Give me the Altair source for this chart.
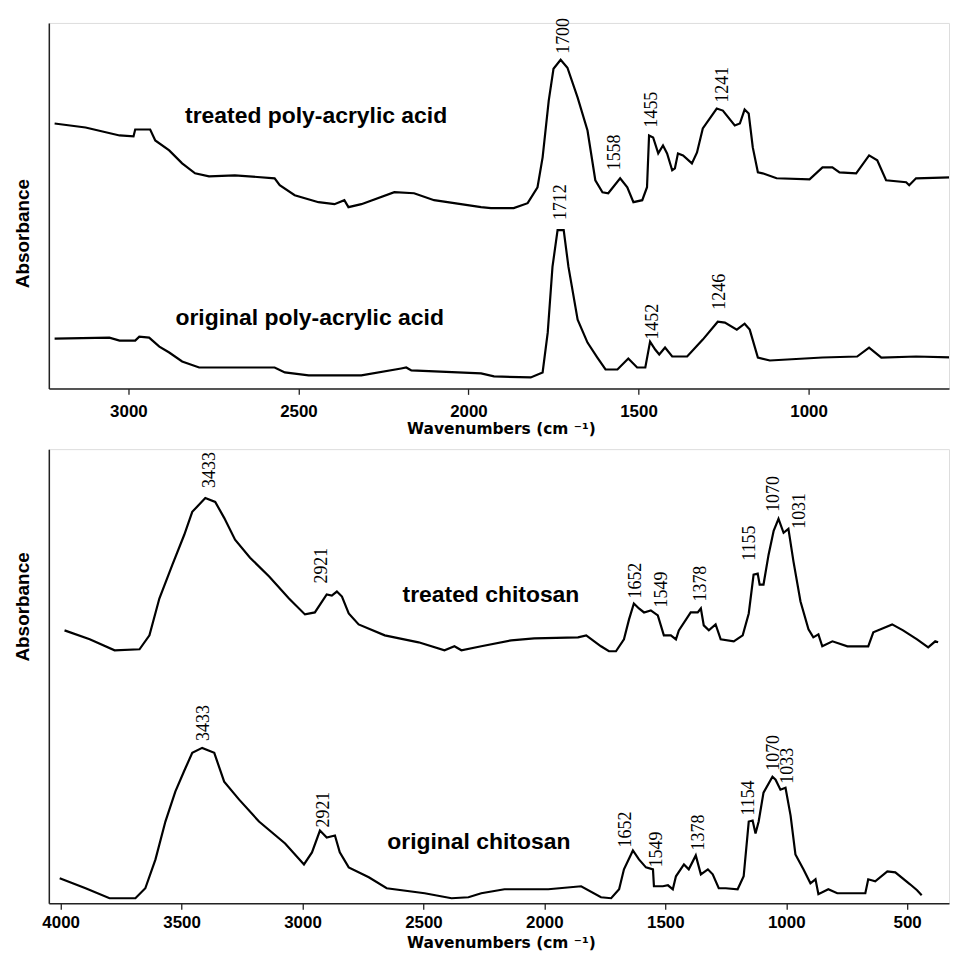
import altair as alt
import pandas as pd

# ---------------- top panel: poly-acrylic acid ----------------
TPAA_WN = [3217, 3126, 3026, 2985, 2980, 2936, 2921, 2880, 2842, 2804, 2763, 2687, 2570, 2555, 2511,
           2441, 2394, 2365, 2353, 2315, 2218, 2160, 2101, 1963, 1934, 1867, 1826, 1797, 1782, 1764,
           1750, 1729, 1709, 1679, 1650, 1627, 1606, 1589, 1554, 1533, 1515, 1489, 1475, 1469, 1457,
           1442, 1428, 1416, 1401, 1393, 1384, 1369, 1343, 1328, 1311, 1270, 1252, 1217, 1202, 1188,
           1176, 1164, 1149, 1135, 1094, 997, 959, 930, 909, 860, 822, 798, 772, 713, 704, 684, 579, 567]
TPAA_A = [2.66, 2.62, 2.54, 2.53, 2.60, 2.60, 2.49, 2.39, 2.26, 2.16, 2.13, 2.14, 2.11, 2.04, 1.94,
          1.87, 1.85, 1.89, 1.82, 1.85, 1.97, 1.96, 1.89, 1.82, 1.81, 1.81, 1.86, 2.02, 2.32, 2.89,
          3.21, 3.30, 3.22, 2.92, 2.59, 2.09, 1.97, 1.96, 2.11, 2.02, 1.87, 1.89, 2.02, 2.54, 2.52,
          2.36, 2.44, 2.36, 2.19, 2.21, 2.36, 2.34, 2.26, 2.37, 2.61, 2.81, 2.79, 2.64, 2.66, 2.80,
          2.76, 2.42, 2.17, 2.16, 2.11, 2.10, 2.22, 2.22, 2.17, 2.16, 2.34, 2.29, 2.09, 2.07, 2.04,
          2.11, 2.12, 2.22]

OPAA_WN = [3217, 3056, 3026, 2980, 2968, 2939, 2909, 2880, 2842, 2792, 2570, 2540, 2470, 2315, 2198,
           2183, 2168, 1963, 1925, 1817, 1782, 1767, 1753, 1738, 1720, 1706, 1679, 1650, 1621, 1597,
           1562, 1530, 1504, 1480, 1466, 1451, 1439, 1422, 1401, 1357, 1311, 1267, 1246, 1211, 1188,
           1173, 1149, 1114, 959, 857, 822, 786, 684, 567]
OPAA_A = [0.50, 0.51, 0.48, 0.48, 0.52, 0.51, 0.42, 0.36, 0.27, 0.21, 0.21, 0.16, 0.13, 0.13, 0.20,
          0.21, 0.18, 0.15, 0.12, 0.11, 0.16, 0.56, 1.22, 1.59, 1.59, 1.22, 0.69, 0.46, 0.31, 0.19,
          0.19, 0.30, 0.21, 0.21, 0.47, 0.39, 0.34, 0.41, 0.32, 0.32, 0.49, 0.67, 0.66, 0.59, 0.65,
          0.59, 0.31, 0.28, 0.31, 0.32, 0.41, 0.31, 0.32, 0.31]

TOP_PEAK_TXT = ["1700", "1558", "1455", "1241", "1712", "1452", "1246"]
TOP_PEAK_WN = [1718, 1568, 1460, 1252, 1729, 1457, 1261]
TOP_PEAK_A = [3.36, 2.19, 2.62, 2.87, 1.69, 0.49, 0.79]

TOP_NAME_TXT = ["treated poly-acrylic acid", "original poly-acrylic acid"]
TOP_NAME_WN = [2448, 2467]
TOP_NAME_A = [2.67, 0.64]

TOP_TICKS = [3000, 2500, 2000, 1500, 1000]

# ---------------- bottom panel: chitosan ----------------
TCH_WN = [3984, 3880, 3777, 3674, 3633, 3592, 3538, 3489, 3456, 3402, 3361, 3324, 3279, 3217, 3138,
          3056, 2990, 2949, 2900, 2879, 2858, 2837, 2809, 2768, 2660, 2520, 2413, 2372, 2343, 2261,
          2137, 2042, 1861, 1827, 1766, 1733, 1704, 1671, 1650, 1630, 1609, 1588, 1560, 1531, 1506,
          1477, 1456, 1444, 1395, 1366, 1353, 1341, 1320, 1292, 1271, 1217, 1180, 1155, 1135, 1118,
          1110, 1094, 1073, 1052, 1032, 1011, 991, 970, 941, 908, 888, 867, 851, 809, 747,
          661, 640, 562, 517, 459, 413, 384, 372]
TCH_A = [2.74, 2.65, 2.54, 2.55, 2.69, 3.06, 3.40, 3.70, 3.93, 4.07, 4.03, 3.87, 3.65, 3.47, 3.28,
         3.06, 2.90, 2.92, 3.10, 3.09, 3.13, 3.08, 2.91, 2.80, 2.69, 2.62, 2.54, 2.58, 2.54, 2.58,
         2.64, 2.66, 2.67, 2.69, 2.58, 2.53, 2.53, 2.65, 2.85, 3.01, 2.96, 2.92, 2.94, 2.89, 2.69,
         2.69, 2.65, 2.74, 2.92, 2.92, 2.96, 2.79, 2.74, 2.80, 2.65, 2.63, 2.69, 2.91, 3.30, 3.31,
         3.20, 3.20, 3.50, 3.74, 3.86, 3.72, 3.76, 3.43, 3.03, 2.75, 2.67, 2.70, 2.58, 2.63, 2.58,
         2.58, 2.72, 2.80, 2.74, 2.65, 2.57, 2.63, 2.62]

OCH_WN = [4004, 3897, 3798, 3691, 3650, 3608, 3567, 3526, 3489, 3456, 3415, 3365, 3324, 3262, 3180,
          3072, 2994, 2961, 2928, 2900, 2866, 2846, 2809, 2726, 2652, 2495, 2384, 2314, 2261, 2165,
          1984, 1848, 1766, 1724, 1691, 1671, 1634, 1609, 1580, 1551, 1547, 1510, 1489, 1469, 1456,
          1423, 1403, 1374, 1353, 1324, 1304, 1279, 1250, 1201, 1176, 1155, 1139, 1127, 1114, 1094,
          1057, 1044, 1024, 1003, 982, 962, 929, 900, 879, 867, 826, 789, 673, 661, 632,
          582, 549, 488, 459, 440]
OCH_A = [0.25, 0.15, 0.05, 0.05, 0.15, 0.44, 0.82, 1.12, 1.33, 1.51, 1.56, 1.51, 1.22, 1.04, 0.82,
         0.60, 0.39, 0.51, 0.73, 0.66, 0.68, 0.51, 0.36, 0.26, 0.15, 0.10, 0.05, 0.06, 0.10, 0.14,
         0.14, 0.17, 0.06, 0.05, 0.14, 0.34, 0.53, 0.44, 0.36, 0.34, 0.17, 0.17, 0.18, 0.14, 0.27,
         0.39, 0.34, 0.48, 0.29, 0.34, 0.29, 0.15, 0.15, 0.14, 0.27, 0.82, 0.83, 0.70, 0.82, 1.11,
         1.27, 1.24, 1.14, 1.16, 0.88, 0.49, 0.34, 0.20, 0.24, 0.09, 0.14, 0.10, 0.10, 0.24, 0.22,
         0.32, 0.31, 0.19, 0.13, 0.08]

BOT_PEAK_TXT = ["3433", "2921", "1652", "1549", "1378", "1155", "1070", "1031",
                "3433", "2921", "1652", "1549", "1378", "1154", "1070", "1033"]
BOT_PEAK_WN = [3382, 2920, 1620, 1513, 1353, 1151, 1052, 945,
               3406, 2912, 1663, 1535, 1362, 1155, 1052, 991]
BOT_PEAK_A = [4.17, 3.21, 3.06, 2.97, 3.03, 3.44, 3.93, 3.76,
              1.63, 0.76, 0.56, 0.36, 0.53, 0.88, 1.33, 1.20]

BOT_NAME_TXT = ["treated chitosan", "original chitosan"]
BOT_NAME_WN = [2221, 2271]
BOT_NAME_A = [3.02, 0.54]

BOT_TICKS = [4000, 3500, 3000, 2500, 2000, 1500, 1000, 500]

X_TITLE = "Wavenumbers  (cm \u207b\u00b9)"


def lines(pairs):
    frames = []
    for name, wn, a in pairs:
        frames.append(pd.DataFrame({"wn": wn, "a": a, "series": name}))
    return pd.concat(frames, ignore_index=True)


def panel(line_df, peak_df, name_df, xdom, ydom, ticks, height, title_y, abs_y, lab_pad):
    x_enc = alt.X(
        "wn:Q",
        scale=alt.Scale(domain=xdom, nice=False, zero=False),
        axis=alt.Axis(
            values=ticks, format="d", grid=False, labelFlush=False,
            labelFont="Liberation Sans", labelFontWeight="bold", labelFontSize=17,
            labelColor="black", labelPadding=lab_pad, tickSize=6, tickColor="#222",
            tickWidth=1.3, domainColor="#222", domainWidth=1.5,
            title=X_TITLE, titleFont="DejaVu Sans", titleFontWeight="bold",
            titleFontSize=15.5, titleColor="black", titleX=454, titleY=title_y,
            titleBaseline="alphabetic", titleAlign="center",
        ),
    )
    y_enc = alt.Y(
        "a:Q",
        scale=alt.Scale(domain=ydom, nice=False, zero=False),
        axis=alt.Axis(
            labels=False, ticks=False, grid=False, domainColor="#222", domainWidth=1.5,
            title="Absorbance", titleFont="Liberation Sans", titleFontWeight="bold",
            titleFontSize=19, titleColor="black", titleAngle=270, titleX=-26,
            titleY=abs_y, titleBaseline="middle", titleAlign="center",
        ),
    )
    ln = alt.Chart(line_df).mark_line(color="black", strokeWidth=2.2, clip=True).encode(
        x=x_enc, y=y_enc, detail="series:N", order="wn:Q"
    )
    pk = alt.Chart(peak_df).mark_text(
        angle=270, align="left", baseline="middle", font="Liberation Serif",
        fontSize=18, color="black"
    ).encode(x="wn:Q", y="a:Q", text="label:N")
    nm = alt.Chart(name_df).mark_text(
        align="center", baseline="alphabetic", font="Liberation Sans",
        fontWeight="bold", fontSize=23, color="black"
    ).encode(x="wn:Q", y="a:Q", text="label:N")
    return alt.layer(ln, pk, nm).properties(width=904, height=height)


top_lines = lines([("treated", TPAA_WN, TPAA_A), ("original", OPAA_WN, OPAA_A)])
top_peaks = pd.DataFrame({"wn": TOP_PEAK_WN, "a": TOP_PEAK_A, "label": TOP_PEAK_TXT})
top_names = pd.DataFrame({"wn": TOP_NAME_WN, "a": TOP_NAME_A, "label": TOP_NAME_TXT})

bot_lines = lines([("treated", TCH_WN, TCH_A), ("original", OCH_WN, OCH_A)])
bot_peaks = pd.DataFrame({"wn": BOT_PEAK_WN, "a": BOT_PEAK_A, "label": BOT_PEAK_TXT})
bot_names = pd.DataFrame({"wn": BOT_NAME_WN, "a": BOT_NAME_A, "label": BOT_NAME_TXT})

top = panel(top_lines, top_peaks, top_names, [3234, 587], [0, 3.67], TOP_TICKS, 367, 45, 211, 9)
bottom = panel(bot_lines, bot_peaks, bot_names, [4049, 327], [0, 4.56], BOT_TICKS, 456, 44, 158, 5)

chart = alt.vconcat(top, bottom, spacing=61, bounds="flush").properties(
    padding={"left": 5, "top": 7, "right": 0, "bottom": 0}
).configure_view(stroke=None).configure(background="white")

chart.save("out.html", embed_options={"renderer": "svg", "actions": False})
